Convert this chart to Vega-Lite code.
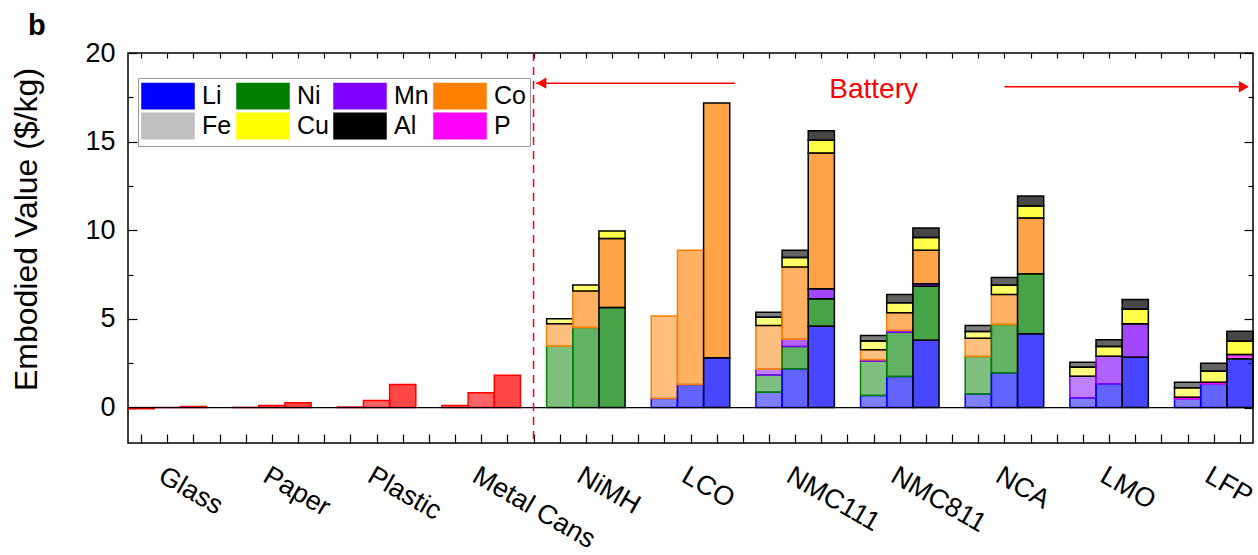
{
  "$schema": "https://vega.github.io/schema/vega-lite/v6.json",
  "width": 1125,
  "height": 390,
  "autosize": {"type": "none"},
  "padding": {"left": 128, "top": 53, "right": 5, "bottom": 112},
  "config": {
    "font": "Liberation Sans",
    "view": {"stroke": "black", "strokeWidth": 1.5},
    "axis": {"grid": false, "domain": false, "labelFont": "Liberation Sans", "titleFont": "Liberation Sans", "labelColor": "black", "tickColor": "black", "titleColor": "black", "tickWidth": 1.2}
  },
  "title": {"text": "b", "anchor": "start", "frame": "group", "dx": -100, "dy": 48, "offset": 23, "fontSize": 29, "fontWeight": "bold", "baseline": "alphabetic", "color": "black", "font": "Liberation Sans"},
  "datasets": {
    "bars": [
      {"category": "Glass", "scenario": "hatched", "element": "Material", "value": -0.07},
      {"category": "Glass", "scenario": "dotted", "element": "Material", "value": 0.0},
      {"category": "Glass", "scenario": "solid", "element": "Material", "value": 0.06},
      {"category": "Paper", "scenario": "hatched", "element": "Material", "value": 0.01},
      {"category": "Paper", "scenario": "dotted", "element": "Material", "value": 0.11},
      {"category": "Paper", "scenario": "solid", "element": "Material", "value": 0.27},
      {"category": "Plastic", "scenario": "hatched", "element": "Material", "value": 0.03},
      {"category": "Plastic", "scenario": "dotted", "element": "Material", "value": 0.40},
      {"category": "Plastic", "scenario": "solid", "element": "Material", "value": 1.30},
      {"category": "Metal Cans", "scenario": "hatched", "element": "Material", "value": 0.11},
      {"category": "Metal Cans", "scenario": "dotted", "element": "Material", "value": 0.83},
      {"category": "Metal Cans", "scenario": "solid", "element": "Material", "value": 1.82},

      {"category": "NiMH", "scenario": "hatched", "element": "Ni", "value": 3.46},
      {"category": "NiMH", "scenario": "hatched", "element": "Co", "value": 1.27},
      {"category": "NiMH", "scenario": "hatched", "element": "Cu", "value": 0.28},
      {"category": "NiMH", "scenario": "dotted", "element": "Ni", "value": 4.52},
      {"category": "NiMH", "scenario": "dotted", "element": "Co", "value": 2.05},
      {"category": "NiMH", "scenario": "dotted", "element": "Cu", "value": 0.34},
      {"category": "NiMH", "scenario": "solid", "element": "Ni", "value": 5.65},
      {"category": "NiMH", "scenario": "solid", "element": "Co", "value": 3.88},
      {"category": "NiMH", "scenario": "solid", "element": "Cu", "value": 0.43},

      {"category": "LCO", "scenario": "hatched", "element": "Li", "value": 0.51},
      {"category": "LCO", "scenario": "hatched", "element": "Co", "value": 4.65},
      {"category": "LCO", "scenario": "dotted", "element": "Li", "value": 1.30},
      {"category": "LCO", "scenario": "dotted", "element": "Co", "value": 7.57},
      {"category": "LCO", "scenario": "solid", "element": "Li", "value": 2.81},
      {"category": "LCO", "scenario": "solid", "element": "Co", "value": 14.37},

      {"category": "NMC111", "scenario": "hatched", "element": "Li", "value": 0.86},
      {"category": "NMC111", "scenario": "hatched", "element": "Ni", "value": 0.98},
      {"category": "NMC111", "scenario": "hatched", "element": "Mn", "value": 0.32},
      {"category": "NMC111", "scenario": "hatched", "element": "Co", "value": 2.47},
      {"category": "NMC111", "scenario": "hatched", "element": "Cu", "value": 0.47},
      {"category": "NMC111", "scenario": "hatched", "element": "Al", "value": 0.28},
      {"category": "NMC111", "scenario": "dotted", "element": "Li", "value": 2.19},
      {"category": "NMC111", "scenario": "dotted", "element": "Ni", "value": 1.26},
      {"category": "NMC111", "scenario": "dotted", "element": "Mn", "value": 0.40},
      {"category": "NMC111", "scenario": "dotted", "element": "Co", "value": 4.08},
      {"category": "NMC111", "scenario": "dotted", "element": "Cu", "value": 0.53},
      {"category": "NMC111", "scenario": "dotted", "element": "Al", "value": 0.41},
      {"category": "NMC111", "scenario": "solid", "element": "Li", "value": 4.59},
      {"category": "NMC111", "scenario": "solid", "element": "Ni", "value": 1.55},
      {"category": "NMC111", "scenario": "solid", "element": "Mn", "value": 0.56},
      {"category": "NMC111", "scenario": "solid", "element": "Co", "value": 7.66},
      {"category": "NMC111", "scenario": "solid", "element": "Cu", "value": 0.72},
      {"category": "NMC111", "scenario": "solid", "element": "Al", "value": 0.53},

      {"category": "NMC811", "scenario": "hatched", "element": "Li", "value": 0.68},
      {"category": "NMC811", "scenario": "hatched", "element": "Ni", "value": 1.94},
      {"category": "NMC811", "scenario": "hatched", "element": "Mn", "value": 0.08},
      {"category": "NMC811", "scenario": "hatched", "element": "Co", "value": 0.56},
      {"category": "NMC811", "scenario": "hatched", "element": "Cu", "value": 0.49},
      {"category": "NMC811", "scenario": "hatched", "element": "Al", "value": 0.32},
      {"category": "NMC811", "scenario": "dotted", "element": "Li", "value": 1.75},
      {"category": "NMC811", "scenario": "dotted", "element": "Ni", "value": 2.50},
      {"category": "NMC811", "scenario": "dotted", "element": "Mn", "value": 0.10},
      {"category": "NMC811", "scenario": "dotted", "element": "Co", "value": 1.00},
      {"category": "NMC811", "scenario": "dotted", "element": "Cu", "value": 0.56},
      {"category": "NMC811", "scenario": "dotted", "element": "Al", "value": 0.47},
      {"category": "NMC811", "scenario": "solid", "element": "Li", "value": 3.79},
      {"category": "NMC811", "scenario": "solid", "element": "Ni", "value": 3.05},
      {"category": "NMC811", "scenario": "solid", "element": "Mn", "value": 0.15},
      {"category": "NMC811", "scenario": "solid", "element": "Co", "value": 1.88},
      {"category": "NMC811", "scenario": "solid", "element": "Cu", "value": 0.72},
      {"category": "NMC811", "scenario": "solid", "element": "Al", "value": 0.54},

      {"category": "NCA", "scenario": "hatched", "element": "Li", "value": 0.77},
      {"category": "NCA", "scenario": "hatched", "element": "Ni", "value": 2.11},
      {"category": "NCA", "scenario": "hatched", "element": "Co", "value": 1.03},
      {"category": "NCA", "scenario": "hatched", "element": "Cu", "value": 0.38},
      {"category": "NCA", "scenario": "hatched", "element": "Al", "value": 0.34},
      {"category": "NCA", "scenario": "dotted", "element": "Li", "value": 1.96},
      {"category": "NCA", "scenario": "dotted", "element": "Ni", "value": 2.73},
      {"category": "NCA", "scenario": "dotted", "element": "Co", "value": 1.68},
      {"category": "NCA", "scenario": "dotted", "element": "Cu", "value": 0.53},
      {"category": "NCA", "scenario": "dotted", "element": "Al", "value": 0.44},
      {"category": "NCA", "scenario": "solid", "element": "Li", "value": 4.16},
      {"category": "NCA", "scenario": "solid", "element": "Ni", "value": 3.39},
      {"category": "NCA", "scenario": "solid", "element": "Co", "value": 3.14},
      {"category": "NCA", "scenario": "solid", "element": "Cu", "value": 0.68},
      {"category": "NCA", "scenario": "solid", "element": "Al", "value": 0.56},

      {"category": "LMO", "scenario": "hatched", "element": "Li", "value": 0.55},
      {"category": "LMO", "scenario": "hatched", "element": "Mn", "value": 1.22},
      {"category": "LMO", "scenario": "hatched", "element": "Cu", "value": 0.51},
      {"category": "LMO", "scenario": "hatched", "element": "Al", "value": 0.28},
      {"category": "LMO", "scenario": "dotted", "element": "Li", "value": 1.34},
      {"category": "LMO", "scenario": "dotted", "element": "Mn", "value": 1.56},
      {"category": "LMO", "scenario": "dotted", "element": "Cu", "value": 0.55},
      {"category": "LMO", "scenario": "dotted", "element": "Al", "value": 0.38},
      {"category": "LMO", "scenario": "solid", "element": "Li", "value": 2.84},
      {"category": "LMO", "scenario": "solid", "element": "Mn", "value": 1.89},
      {"category": "LMO", "scenario": "solid", "element": "Cu", "value": 0.81},
      {"category": "LMO", "scenario": "solid", "element": "Al", "value": 0.55},

      {"category": "LFP", "scenario": "hatched", "element": "Li", "value": 0.49},
      {"category": "LFP", "scenario": "hatched", "element": "P", "value": 0.09},
      {"category": "LFP", "scenario": "hatched", "element": "Cu", "value": 0.53},
      {"category": "LFP", "scenario": "hatched", "element": "Al", "value": 0.32},
      {"category": "LFP", "scenario": "dotted", "element": "Li", "value": 1.34},
      {"category": "LFP", "scenario": "dotted", "element": "P", "value": 0.09},
      {"category": "LFP", "scenario": "dotted", "element": "Cu", "value": 0.62},
      {"category": "LFP", "scenario": "dotted", "element": "Al", "value": 0.45},
      {"category": "LFP", "scenario": "solid", "element": "Li", "value": 2.75},
      {"category": "LFP", "scenario": "solid", "element": "P", "value": 0.24},
      {"category": "LFP", "scenario": "solid", "element": "Cu", "value": 0.75},
      {"category": "LFP", "scenario": "solid", "element": "Al", "value": 0.56}
    ]
  },
  "layer": [
    {
      "data": {"name": "bars"},
      "transform": [
        {"calculate": "indexof(['Li','Ni','Mn','Co','Fe','P','Cu','Al','Material'], datum.element)", "as": "stackOrder"}
      ],
      "mark": {"type": "bar", "strokeWidth": 1.5},
      "encoding": {
        "x": {
          "field": "category", "type": "nominal",
          "sort": ["Glass", "Paper", "Plastic", "Metal Cans", "NiMH", "LCO", "NMC111", "NMC811", "NCA", "LMO", "LFP"],
          "scale": {"paddingInner": 0.25, "paddingOuter": 0},
          "axis": {"orient": "bottom", "title": null, "ticks": false, "labelAngle": 30, "labelAlign": "left", "labelBaseline": "top", "labelFontSize": 27, "labelPadding": 19}
        },
        "xOffset": {
          "field": "scenario", "type": "nominal",
          "sort": ["hatched", "dotted", "solid"],
          "scale": {"paddingInner": 0, "paddingOuter": 0}
        },
        "y": {
          "field": "value", "type": "quantitative", "stack": "zero",
          "scale": {"domain": [-2, 20], "nice": false, "zero": false},
          "axis": {"orient": "left", "values": [0, 5, 10, 15, 20], "tickSize": -9, "labelPadding": 22, "labelFontSize": 27, "labelBaseline": "middle",
            "title": "Embodied Value ($/kg)", "titleFontSize": 32, "titleFontWeight": "normal", "titleX": -92, "titleY": 176, "titleAngle": -90, "titleAlign": "center", "titleBaseline": "alphabetic"}
        },
        "fill": {
          "field": "element", "type": "nominal",
          "scale": {
            "domain": ["Li", "Ni", "Mn", "Co", "Fe", "Cu", "Al", "P", "Material"],
            "range": ["#0000ff", "#007f00", "#7f00ff", "#ff7f00", "#c0c0c0", "#ffff00", "#000000", "#ff00ff", "#ff0000"]
          },
          "legend": {
            "orient": "none", "legendX": 10, "legendY": 25, "columns": 4, "direction": "horizontal",
            "values": ["Li", "Ni", "Mn", "Co", "Fe", "Cu", "Al", "P"],
            "title": null,
            "symbolType": "M-2,-0.98H2V0.98H-2Z", "symbolSize": 676, "symbolOffset": 12,
            "symbolStrokeColor": "black", "symbolStrokeWidth": 1.5, "symbolOpacity": 1,
            "labelFontSize": 25, "labelFont": "Liberation Sans", "labelColor": "black", "labelOffset": 20,
            "columnPadding": 2, "rowPadding": -5,
            "strokeColor": "#999999", "fillColor": "white", "padding": 4
          }
        },
        "fillOpacity": {
          "field": "scenario", "type": "nominal",
          "scale": {"domain": ["hatched", "dotted", "solid"], "range": [0.5, 0.72, 1]},
          "legend": null
        },
        "stroke": {
          "condition": {"test": "datum.element !== 'Material' && (datum.scenario === 'solid' || datum.element === 'Cu' || datum.element === 'Al')", "value": "black"},
          "field": "element", "type": "nominal",
          "scale": {
            "domain": ["Li", "Ni", "Mn", "Co", "Fe", "Cu", "Al", "P", "Material"],
            "range": ["#0000ff", "#007f00", "#7f00ff", "#ff7f00", "#c0c0c0", "#ffff00", "#000000", "#ff00ff", "#ff0000"]
          },
          "legend": null
        },
        "order": {"field": "stackOrder", "type": "quantitative", "sort": "ascending"}
      }
    },
    {
      "data": {"values": [{"ref": "zero"}]},
      "mark": {"type": "rule", "color": "black", "strokeWidth": 1.2},
      "encoding": {
        "y": {"datum": 0, "type": "quantitative", "scale": {"domain": [-2, 20], "nice": false, "zero": false},
          "axis": {"orient": "left", "values": [2.5, 7.5, 12.5, 17.5], "labels": false, "tickSize": -5, "title": null}}
      }
    },
    {
      "data": {"values": [{"slot": 15.5}]},
      "mark": {"type": "rule", "color": "#ff0000", "strokeWidth": 1.5, "strokeDash": [8, 6]},
      "encoding": {
        "x": {"field": "slot", "type": "quantitative", "scale": {"domain": [0, 43], "nice": false, "zero": false},
          "axis": {"orient": "top", "values": [0.5, 1.5, 2.5, 3.5, 4.5, 5.5, 6.5, 7.5, 8.5, 9.5, 10.5, 11.5, 12.5, 13.5, 14.5, 15.5, 16.5, 17.5, 18.5, 19.5, 20.5, 21.5, 22.5, 23.5, 24.5, 25.5, 26.5, 27.5, 28.5, 29.5, 30.5, 31.5, 32.5, 33.5, 34.5, 35.5, 36.5, 37.5, 38.5, 39.5, 40.5, 41.5, 42.5], "labels": false, "tickSize": -5, "title": null}}
      }
    },
    {
      "data": {"values": [{"start": 15.6, "end": 23.2, "level": 18.3}, {"start": 33.5, "end": 42.8, "level": 18.1}]},
      "mark": {"type": "rule", "color": "#ff0000", "strokeWidth": 1.5},
      "encoding": {
        "x": {"field": "start", "type": "quantitative", "scale": {"domain": [0, 43], "nice": false, "zero": false},
          "axis": {"orient": "bottom", "values": [0.5, 1.5, 2.5, 3.5, 4.5, 5.5, 6.5, 7.5, 8.5, 9.5, 10.5, 11.5, 12.5, 13.5, 14.5, 15.5, 16.5, 17.5, 18.5, 19.5, 20.5, 21.5, 22.5, 23.5, 24.5, 25.5, 26.5, 27.5, 28.5, 29.5, 30.5, 31.5, 32.5, 33.5, 34.5, 35.5, 36.5, 37.5, 38.5, 39.5, 40.5, 41.5, 42.5], "labels": false, "tickSize": -9, "title": null}},
        "x2": {"field": "end"},
        "y": {"field": "level", "type": "quantitative", "scale": {"domain": [-2, 20], "nice": false, "zero": false},
          "axis": {"orient": "right", "values": [0, 5, 10, 15, 20], "labels": false, "tickSize": -9, "title": null}}
      }
    },
    {
      "data": {"values": [{"pos": 15.8, "level": 18.3, "dir": "left"}, {"pos": 42.65, "level": 18.1, "dir": "right"}]},
      "mark": {"type": "point", "filled": true, "color": "#ff0000", "opacity": 1, "size": 130},
      "encoding": {
        "x": {"field": "pos", "type": "quantitative", "scale": {"domain": [0, 43], "nice": false, "zero": false}, "axis": null},
        "y": {"field": "level", "type": "quantitative", "scale": {"domain": [-2, 20], "nice": false, "zero": false},
          "axis": {"orient": "right", "values": [2.5, 7.5, 12.5, 17.5], "labels": false, "tickSize": -5, "title": null}},
        "shape": {"field": "dir", "type": "nominal", "scale": {"domain": ["left", "right"], "range": ["triangle-left", "triangle-right"]}, "legend": null}
      }
    },
    {
      "data": {"values": [{"pos": 28.5, "level": 17.9, "label": "Battery"}]},
      "mark": {"type": "text", "color": "#ff0000", "fontSize": 28, "font": "Liberation Sans", "align": "center", "baseline": "middle"},
      "encoding": {
        "x": {"field": "pos", "type": "quantitative", "scale": {"domain": [0, 43], "nice": false, "zero": false}, "axis": null},
        "y": {"field": "level", "type": "quantitative", "scale": {"domain": [-2, 20], "nice": false, "zero": false}, "axis": null},
        "text": {"field": "label"}
      }
    }
  ],
  "resolve": {"scale": {"x": "independent"}, "axis": {"x": "independent", "y": "independent"}}
}
